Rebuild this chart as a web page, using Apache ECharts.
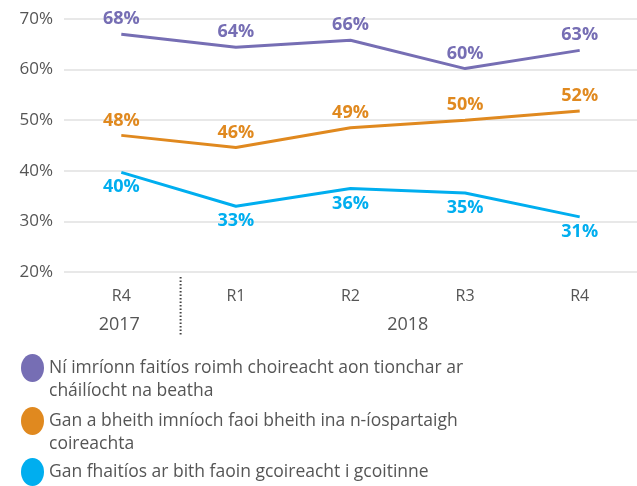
<!DOCTYPE html>
<html>
<head>
<meta charset="utf-8">
<script src="https://cdn.jsdelivr.net/npm/echarts@6/dist/echarts.min.js"></script>
<style>
  html, body { margin: 0; padding: 0; background: #fff; }
  #chart { width: 637px; height: 486px; }
</style>
</head>
<body>
<div id="chart"></div>
<script>
const quarters = ['R4', 'R1', 'R2', 'R3', 'R4']
const years = ['2017', '2018']
const seriesNames = [
  'Ní imríonn faitíos roimh choireacht aon tionchar ar\ncháilíocht na beatha',
  'Gan a bheith imníoch faoi bheith ina n-íospartaigh\ncoireachta',
  'Gan fhaitíos ar bith faoin gcoireacht i gcoitinne'
]
// line positions as drawn
const purpleValues = [67.0, 64.4, 65.8, 60.2, 63.8]
const orangeValues = [47.0, 44.6, 48.5, 50.0, 51.8]
const blueValues = [39.7, 33.0, 36.5, 35.6, 30.9]
// printed labels
const purpleLabels = ['68%', '64%', '66%', '60%', '63%']
const orangeLabels = ['48%', '46%', '49%', '50%', '52%']
const blueLabels = ['40%', '33%', '36%', '35%', '31%']

const colors = ['#766eb4', '#e0891f', '#00aeef']
const font = 'Open Sans'

// oval at the top of a taller box, so it lines up with the first text line
const topOval = 'path://M11.5,51 M0,14 A11.5,14 0 1,1 23,14 A11.5,14 0 1,1 0,14 Z'
const oval = 'path://M0,14 A11.5,14 0 1,1 23,14 A11.5,14 0 1,1 0,14 Z'

const myChart = echarts.init(document.getElementById('chart'))

function makeSeries (name, values, labels, color, pos) {
  return {
    name: name,
    type: 'line',
    data: values,
    showSymbol: true,
    symbol: 'circle',
    symbolSize: 0,
    lineStyle: { color: color, width: 3 },
    itemStyle: { color: color },
    label: {
      show: true,
      position: pos,
      distance: 6,
      color: color,
      fontFamily: font,
      fontWeight: 'bold',
      fontSize: 18,
      formatter: (p) => labels[p.dataIndex]
    }
  }
}

const legendText = { color: '#555', fontFamily: font, fontSize: 17.5, lineHeight: 23 }

const option = {
  animation: false,
  grid: { left: 64, right: 0, top: 19, bottom: 214 },
  legend: [
    { left: 16, top: 349, itemWidth: 23, itemHeight: 51, icon: topOval,
      textStyle: legendText, data: [seriesNames[0]], selectedMode: false },
    { left: 16, top: 402, itemWidth: 23, itemHeight: 51, icon: topOval,
      textStyle: legendText, data: [seriesNames[1]], selectedMode: false },
    { left: 16, top: 453, itemWidth: 23, itemHeight: 28, icon: oval,
      textStyle: legendText, data: [seriesNames[2]], selectedMode: false }
  ],
  xAxis: {
    type: 'category',
    data: quarters,
    boundaryGap: true,
    axisLine: { show: false },
    axisTick: { show: false },
    axisLabel: { color: '#555', fontFamily: font, fontSize: 16, margin: 16 }
  },
  yAxis: {
    type: 'value',
    min: 20,
    max: 70,
    interval: 10,
    axisLine: { show: false },
    axisTick: { show: false },
    axisLabel: { color: '#555', fontFamily: font, fontSize: 17, margin: 11, formatter: '{value}%' },
    splitLine: { lineStyle: { color: '#e8e8e8', width: 2 } }
  },
  series: [
    makeSeries(seriesNames[0], purpleValues, purpleLabels, colors[0], 'top'),
    makeSeries(seriesNames[1], orangeValues, orangeLabels, colors[1], 'top'),
    makeSeries(seriesNames[2], blueValues, blueLabels, colors[2], 'bottom')
  ]
}
myChart.setOption(option)

// year row and the dotted separator, placed from the axis scale
const px = (i) => myChart.convertToPixel({ xAxisIndex: 0 }, i)
const x0 = px(0) - 2
const sepX = (px(0) + px(1)) / 2 + 2
const x2018 = (px(1) + px(quarters.length - 1)) / 2
const yearStyle = { fill: '#555', font: '18px "Open Sans"', textAlign: 'center', textVerticalAlign: 'middle' }
myChart.setOption({
  graphic: [
    { type: 'text', x: x0, y: 325, style: Object.assign({ text: years[0] }, yearStyle) },
    { type: 'text', x: x2018, y: 325, style: Object.assign({ text: years[1] }, yearStyle) },
    { type: 'line', shape: { x1: sepX, y1: 277, x2: sepX, y2: 335 },
      style: { stroke: '#444', lineWidth: 2, lineDash: [1.5, 2] } }
  ]
})
</script>
</body>
</html>
